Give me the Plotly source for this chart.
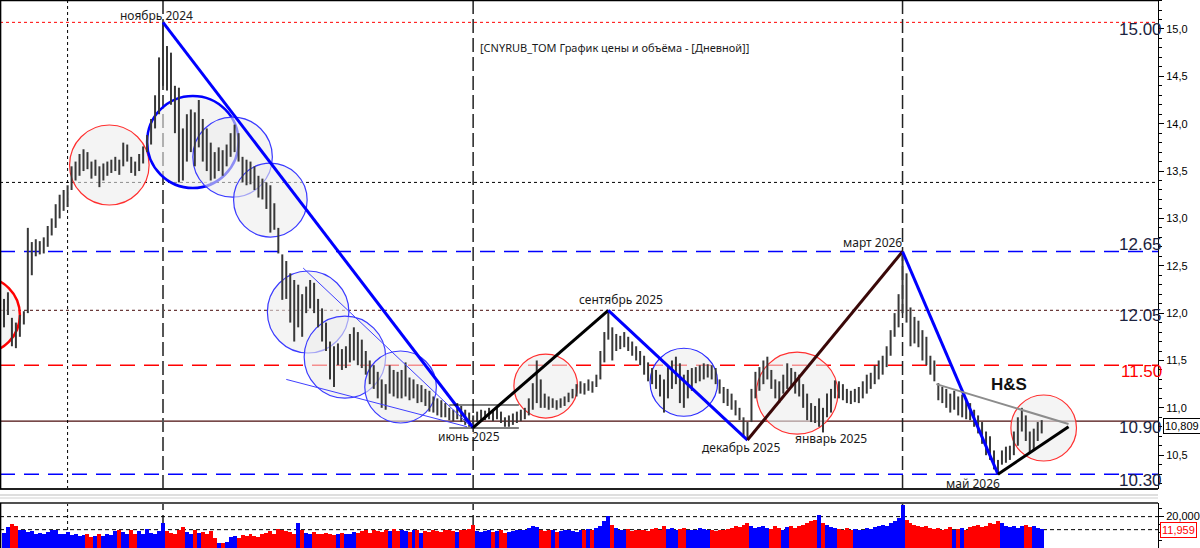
import plotly.graph_objects as go

# ---------------- data (bar index = trading-day slot, every 2nd day) ----------------
highs = [
    12.15, 12.22, 11.95, 11.90, 11.98, 12.02, 12.90, 12.75, 12.78, 12.76,
    12.80, 12.92, 13.00, 13.15, 13.25, 13.30, 13.35, 13.55, 13.60, 13.68,
    13.73, 13.70, 13.60, 13.62, 13.55, 13.58, 13.60, 13.62, 13.65, 13.62,
    13.80, 13.78, 13.65, 13.60, 13.68, 13.76, 13.88, 14.05, 14.30, 14.70,
    15.07, 14.82, 14.75, 14.40, 14.38, 13.95, 14.10, 14.15, 14.12, 14.25,
    14.05, 13.95, 13.80, 13.70, 13.75, 13.72, 13.78, 13.90, 13.99, 13.90,
    13.65, 13.62, 13.60, 13.55, 13.45, 13.42, 13.38, 13.35, 13.16, 12.90,
    12.62, 12.55, 12.42, 12.35, 12.30, 12.20, 12.28, 12.35, 12.32, 12.15,
    12.05, 11.90, 11.70, 11.65, 11.68, 11.62, 11.65, 11.78, 11.85, 11.80,
    11.72, 11.60, 11.50, 11.45, 11.38, 11.30, 11.25, 11.45, 11.40, 11.38,
    11.40, 11.48, 11.32, 11.30, 11.25, 11.24, 11.20, 11.18, 11.12, 11.10,
    11.08, 11.05, 11.00, 10.98, 11.05, 11.02, 10.98, 10.95, 10.92, 10.96,
    10.98, 10.97, 11.00, 10.98, 11.02, 10.96, 10.90, 10.92, 10.94, 10.96,
    10.98, 11.00, 11.10, 11.26, 11.50, 11.30, 11.15, 11.12, 11.10, 11.08,
    11.10, 11.12, 11.16, 11.20, 11.25, 11.28, 11.26, 11.30, 11.28, 11.35,
    11.60, 11.80, 12.03, 11.85, 11.78, 11.76, 11.80, 11.75, 11.70, 11.65,
    11.60, 11.55, 11.48, 11.42, 11.40, 11.35, 11.30, 11.45, 11.50, 11.54,
    11.47, 11.35, 11.40, 11.42, 11.43, 11.45, 11.47, 11.46, 11.45, 11.42,
    11.30, 11.22, 11.20, 11.15, 11.08, 11.00, 10.90, 10.85, 11.20, 11.38,
    11.43, 11.50, 11.54, 11.40, 11.30, 11.28, 11.35, 11.47, 11.42, 11.38,
    11.35, 11.25, 11.15, 11.05, 11.02, 11.10, 11.00, 11.15, 11.20, 11.29,
    11.28, 11.25, 11.20, 11.18, 11.20, 11.22, 11.28, 11.35, 11.37, 11.45,
    11.50, 11.55, 11.65, 11.82, 12.00, 12.20, 12.65, 12.42, 12.06, 11.96,
    11.92, 11.82, 11.75, 11.55, 11.50, 11.26, 11.22, 11.20, 11.15, 11.18,
    11.12, 11.14, 11.10, 11.05, 10.98, 10.92, 10.85, 10.75, 10.70, 10.55,
    10.45, 10.55, 10.59, 10.60, 10.75, 10.90, 11.00, 10.92, 10.75, 10.78, 10.85, 10.87,
]
lows = [
    11.85, 11.98, 11.65, 11.63, 11.75, 11.88, 12.00, 12.40, 12.60, 12.62,
    12.63, 12.70, 12.82, 12.90, 13.00, 13.08, 13.12, 13.30, 13.40, 13.45,
    13.50, 13.52, 13.42, 13.45, 13.33, 13.40, 13.45, 13.48, 13.50, 13.46,
    13.55, 13.60, 13.48, 13.45, 13.50, 13.58, 13.70, 13.78, 13.95, 14.10,
    14.40, 14.35, 14.20, 13.90, 13.38, 13.40, 13.60, 13.70, 13.55, 13.75,
    13.60, 13.50, 13.40, 13.42, 13.50, 13.45, 13.55, 13.65, 13.70, 13.60,
    13.38, 13.35, 13.36, 13.30, 13.22, 13.20, 13.10, 12.85, 12.88, 12.63,
    12.14, 12.15, 11.90, 11.70, 11.85, 11.75, 12.00, 12.05, 12.00, 11.85,
    11.70, 11.60, 11.30, 11.22, 11.45, 11.40, 11.42, 11.48, 11.50, 11.45,
    11.42, 11.35, 11.25, 11.20, 11.10, 11.00, 10.98, 11.15, 11.12, 11.10,
    11.10, 11.12, 11.08, 11.10, 11.05, 11.06, 11.02, 10.96, 10.95, 10.92,
    10.90, 10.90, 10.87, 10.86, 10.88, 10.85, 10.82, 10.80, 10.79, 10.85,
    10.86, 10.87, 10.88, 10.86, 10.88, 10.84, 10.80, 10.80, 10.82, 10.84,
    10.86, 10.88, 10.92, 10.98, 11.05, 11.00, 11.00, 10.98, 11.00, 10.98,
    11.00, 11.02, 11.06, 11.10, 11.12, 11.15, 11.14, 11.18, 11.16, 11.22,
    11.30, 11.48, 11.72, 11.50, 11.60, 11.62, 11.64, 11.60, 11.55, 11.50,
    11.45, 11.35, 11.28, 11.25, 11.20, 11.12, 10.95, 11.10, 11.20, 11.25,
    11.05, 11.00, 11.10, 11.18, 11.26, 11.28, 11.30, 11.32, 11.30, 11.25,
    11.15, 11.05, 11.02, 10.98, 10.92, 10.87, 10.70, 10.66, 10.85, 11.10,
    11.18, 11.25, 11.30, 11.20, 11.10, 11.05, 11.15, 11.20, 11.22, 11.15,
    11.12, 11.00, 10.87, 10.85, 10.84, 10.80, 10.74, 10.90, 10.95, 11.10,
    11.10, 11.08, 11.05, 11.04, 11.06, 11.05, 11.10, 11.15, 11.20, 11.25,
    11.30, 11.35, 11.43, 11.55, 11.75, 11.85, 12.00, 11.90, 11.65, 11.68,
    11.64, 11.50, 11.45, 11.35, 11.28, 11.08, 11.05, 11.00, 10.95, 10.98,
    10.92, 10.90, 10.88, 10.87, 10.80, 10.73, 10.62, 10.50, 10.45, 10.35,
    10.30, 10.40, 10.42, 10.45, 10.50, 10.60, 10.75, 10.65, 10.52, 10.55, 10.65, 10.73,
]
volumes = [
    10000, 13500, 15500, 14000, 11500, 12000, 10500, 11000, 9500, 10000,
    9000, 10500, 11500, 12000, 9500, 9000, 10500, 8500, 9000, 8000,
    8500, 9000, 7500, 8000, 9500, 8000, 9000, 8500, 11000, 12000,
    10500, 9000, 12000, 9000, 11000, 9500, 12500, 10000, 9000, 11000,
    16000, 11000, 10000, 9000, 12000, 13500, 10500, 9000, 11500, 10000,
    10500, 9500, 11000, 7000, 4000, 3500, 4500, 7500, 8000, 7000,
    8500, 8000, 9000, 8000, 7500, 9500, 10000, 11000, 9500, 12500,
    12000, 11000, 10500, 9000, 16000, 11500, 10000, 9000, 10500, 9500,
    9000, 10000, 9500, 8500, 9500, 10000, 9000, 9500, 10500, 10000,
    11000, 11500, 10000, 12000, 11000, 10500, 12000, 11000, 12500, 11000,
    12000, 11000, 10500, 11500, 12000, 10000, 11000, 10500, 12000, 11000,
    10500, 11500, 12000, 11000, 10500, 12000, 11500, 12500, 15000, 11000,
    10500, 11000, 12000, 10500, 11000, 11500, 10000, 10500, 11000, 12000,
    11500, 12000, 13000, 14000, 13500, 12000, 11000, 12000, 11500, 10500,
    11000, 11500, 12000, 11000, 10500, 12000, 11500, 12500, 12000, 13000,
    14000, 17000, 20500, 15000, 13000, 12000, 11500, 12500, 11000, 12000,
    11500, 12000, 11000, 12500, 13000, 12000, 14000, 12500, 13000, 12000,
    12500, 13000, 12000, 11500, 12000, 13000, 12500, 11500, 12000, 11000,
    11500, 12000, 12500, 13000, 14000, 13500, 15000, 16000, 14000, 13000,
    13500, 14000, 13000, 12500, 14500, 13000, 12000, 13500, 14000, 13000,
    14500, 15000, 16000, 17000, 18000, 21000, 16000, 15000, 13500, 13000,
    12500, 12000, 13000, 12000, 12500, 11500, 12000, 13000, 12500, 13500,
    14000, 15000, 14500, 16000, 17000, 19000, 27000, 18000, 16000, 15000,
    14000, 13500, 14500, 13000, 12500, 13000, 12000, 12500, 13500, 12000,
    12500, 13000, 12000, 13500, 14000, 15000, 13500, 14500, 16000, 15500,
    17500, 16000, 14000, 13500, 14500, 13000, 14000, 15000, 13500, 14500, 13000, 12500,
]

pivot_idx = [40, 118, 152, 187, 226, 250]
pivot_price = [15.07, 10.79, 12.03, 10.66, 12.65, 10.30]
pivot_labels = ["ноябрь 2024", "июнь 2025", "сентябрь 2025", "декабрь 2025", "март 2026", "май 2026"]
trend_colors = ["#0000ff", "#000000", "#0000ff", "#3a0808", "#0000ff"]

level_values = [15.07, 13.38, 12.65, 12.03, 11.45, 10.86, 10.30]
level_labels = ["15.00", "", "12.65", "12.05", "11.50", "10.90", "10.30"]

vline_idx = [16, 40, 118, 226]

neck_idx = [234.5, 267.75]
neck_price = [11.25, 10.83]
hs_support_idx = [250, 267.75]
hs_support_price = [10.30, 10.80]
chan_a_idx = [75.25, 117.0]
chan_a_price = [12.476, 10.82]
chan_b_idx = [71.0, 116.5]
chan_b_price = [11.30, 10.80]
box_idx = [112, 129.5]
box_top, box_bottom = 11.03, 10.787

circle_idx = [-5.5, 26.5, 47.5, 57.5, 67.0, 76.5, 85.75, 99.75, 136.25, 171.0, 199.5, 261.5]
circle_price = [11.98, 13.564, 13.807, 13.648, 13.194, 12.012, 11.536, 11.22, 11.23, 11.27, 11.156, 10.787]
circle_r_px = [38, 40, 46, 40, 37, 41, 41, 36, 32, 34, 41, 33]
circle_color = ["#ff0000", "#ff3030", "#0000ff", "#3a3aff", "#3a3aff", "#3a3aff", "#3a3aff",
                "#3a3aff", "#ff3030", "#2a2aff", "#ff3030", "#ff3030"]
circle_width = [2.5, 1.2, 2.5, 1.2, 1.2, 1.2, 1.2, 1.2, 1.2, 1.2, 1.2, 1.2]

current_price = 10.809
vol_level = 20000
vol_current = 11959
price_ticks = [10.5, 11.0, 11.5, 12.0, 12.5, 13.0, 13.5, 14.0, 14.5, 15.0]

# ---------------- geometry ----------------
W, H = 1200, 548
ML, MR = 0, 35
PW = W - ML - MR
X_RANGE = [-1, 290.25]
PX_PER_X = PW / (X_RANGE[1] - X_RANGE[0])
Y_RANGE = [10.143, 15.306]
MAIN_BOTTOM_PX = 489
VOL_TOP_PX = 503
PX_PER_Y = MAIN_BOTTOM_PX / (Y_RANGE[1] - Y_RANGE[0])
main_domain = [1 - MAIN_BOTTOM_PX / H, 1]
vol_domain = [0, 1 - VOL_TOP_PX / H]
V_RANGE = [618, 28428]

fig = go.Figure()

# bars (high-low)
seg_x, seg_y = [], []
for i, (h, l) in enumerate(zip(highs, lows)):
    seg_x += [i, i, None]
    seg_y += [l, h, None]
fig.add_trace(go.Scatter(x=seg_x, y=seg_y, mode="lines",
                         line=dict(color="#383838", width=2), hoverinfo="skip"))

# trend lines between pivots
for k in range(len(pivot_idx) - 1):
    fig.add_trace(go.Scatter(x=pivot_idx[k:k + 2], y=pivot_price[k:k + 2], mode="lines",
                             line=dict(color=trend_colors[k], width=3)))
fig.add_trace(go.Scatter(x=chan_a_idx, y=chan_a_price, mode="lines", line=dict(color="#4040ff", width=1)))
fig.add_trace(go.Scatter(x=chan_b_idx, y=chan_b_price, mode="lines", line=dict(color="#4040ff", width=1)))
fig.add_trace(go.Scatter(x=neck_idx, y=neck_price, mode="lines", line=dict(color="#8c8c8c", width=2)))
fig.add_trace(go.Scatter(x=hs_support_idx, y=hs_support_price, mode="lines", line=dict(color="#000000", width=3)))
for yv in (box_top, box_bottom):
    fig.add_trace(go.Scatter(x=box_idx, y=[yv, yv], mode="lines", line=dict(color="#000000", width=1)))

# volume bars
mids = [(h + l) / 2 for h, l in zip(highs, lows)]
vcol = ["#0000ff" if (i == 0 or mids[i] >= mids[i - 1]) else "#ff0000" for i in range(len(mids))]
fig.add_trace(go.Bar(x=list(range(len(volumes))), y=volumes, marker=dict(color=vcol, line=dict(width=0)),
                     width=1.0, xaxis="x2", yaxis="y2"))

shapes = []
# circles (below bars)
for ci, cp, r, col, lw in zip(circle_idx, circle_price, circle_r_px, circle_color, circle_width):
    dx = r / PX_PER_X
    dy = r / PX_PER_Y
    shapes.append(dict(type="circle", xref="x", yref="y", x0=ci - dx, x1=ci + dx, y0=cp - dy, y1=cp + dy,
                       fillcolor="rgba(236,236,236,0.6)", line=dict(color=col, width=lw), layer="below"))

level_styles = [
    ("#ff0000", "3px,3px", 1),
    ("#000000", "3px,3px", 1),
    ("#0000ff", "15px,9px", 1.5),
    ("#6b3a3a", "3px,3px", 1.3),
    ("#ff0000", "15px,9px", 1.5),
    ("#4a0c0c", "solid", 1.3),
    ("#0000ff", "15px,9px", 1.5),
]
for v, (c, d, w) in zip(level_values, level_styles):
    shapes.append(dict(type="line", xref="x domain", yref="y", x0=0, x1=1, y0=v, y1=v,
                       line=dict(color=c, dash=d, width=w), layer="below"))

vline_styles = [("#000000", "3px,3px", 1), ("#555555", "14px,5px", 2),
                ("#222222", "14px,5px", 1.5), ("#222222", "14px,5px", 1.5)]
for xi, (c, d, w) in zip(vline_idx, vline_styles):
    for yr in ("y domain", "y2 domain"):
        shapes.append(dict(type="line", xref="x", yref=yr, x0=xi, x1=xi, y0=0, y1=1,
                           line=dict(color=c, dash=d, width=w), layer="below"))

# volume levels
for v in (vol_level, vol_current):
    shapes.append(dict(type="line", xref="x2 domain", yref="y2", x0=0, x1=1, y0=v, y1=v,
                       line=dict(color="#000000", dash="4px,3px", width=1), layer="below"))

# frame lines
def hline_px(py, color, width):
    return dict(type="line", xref="paper", yref="paper", x0=0, x1=1, y0=1 - py / H, y1=1 - py / H,
                line=dict(color=color, width=width))
shapes += [
    hline_px(0.5, "#000000", 1.5),
    hline_px(489, "#202020", 2),
    hline_px(495, "#bdbdbd", 1),
    hline_px(498, "#d0d0d0", 1),
    hline_px(503, "#505050", 2),
    dict(type="line", xref="paper", yref="paper", x0=0.0005, x1=0.0005, y0=main_domain[0], y1=1,
         line=dict(color="#000000", width=1.5)),
    dict(type="line", xref="paper", yref="paper", x0=0.0005, x1=0.0005, y0=0, y1=vol_domain[1],
         line=dict(color="#000000", width=1.5)),
]

annotations = []
label_offsets = [(-7, 7), (-4, -9), (13, 11), (-6, -7), (-30, 9), (-25, -9)]
for xi, yp, txt, (xs, ys) in zip(pivot_idx, pivot_price, pivot_labels, label_offsets):
    annotations.append(dict(x=xi, y=yp, xref="x", yref="y", text=txt, showarrow=False,
                            xshift=xs, yshift=ys, font=dict(family="Noto Sans", size=12, color="#1a1a1a")))
annotations.append(dict(x=208, y=10.681, xref="x", yref="y", text="январь 2025", showarrow=False,
                        font=dict(family="Noto Sans", size=12, color="#1a1a1a")))
annotations.append(dict(x=252.75, y=11.251, xref="x", yref="y", text="<b>H&S</b>", showarrow=False,
                        font=dict(family="Liberation Sans", size=17, color="#111111")))
annotations.append(dict(x=481 / PW, y=1 - 37.5 / H, xref="paper", yref="paper", xanchor="left",
                        text="[CNYRUB_TOM График цены и объёма - [Дневной]]", showarrow=False,
                        font=dict(family="Noto Sans", size=11, color="#1a1a1a")))
label_shifts = [-7, 0, 7, -5, -6, -6, -6]
for v, txt, ys in zip(level_values, level_labels, label_shifts):
    if not txt:
        continue
    col = "#ff0000" if txt == "11.50" else "#1c2340"
    annotations.append(dict(x=1162 / PW, y=v, xref="paper", yref="y", xanchor="right", yanchor="middle",
                            text=txt, showarrow=False, yshift=ys, xshift=9,
                            font=dict(family="Liberation Sans", size=17, color=col)))
annotations.append(dict(x=1170 / PW, y=current_price, xref="paper", yref="y", xanchor="left",
                        text=f"{current_price:.3f}".replace(".", ","), showarrow=False,
                        bordercolor="#000000", borderwidth=1, borderpad=1, bgcolor="#ffffff",
                        font=dict(family="Liberation Sans", size=11, color="#000000")))
annotations.append(dict(x=1167 / PW, y=vol_current, xref="paper", yref="y2", xanchor="left",
                        text=f"{vol_current:,}", showarrow=False,
                        bordercolor="#ff0000", borderwidth=1, borderpad=1, bgcolor="#ffffff",
                        font=dict(family="Liberation Sans", size=11, color="#ff0000")))

fig.update_layout(
    width=W, height=H, margin=dict(l=ML, r=MR, t=0, b=0),
    paper_bgcolor="#ffffff", plot_bgcolor="#ffffff", showlegend=False,
    shapes=shapes, annotations=annotations, bargap=0,
    xaxis=dict(range=X_RANGE, showticklabels=False, showgrid=False, zeroline=False, ticks="",
               anchor="y", domain=[0, 1]),
    xaxis2=dict(range=X_RANGE, showticklabels=False, showgrid=False, zeroline=False, ticks="",
                anchor="y2", matches="x", domain=[0, 1]),
    yaxis=dict(domain=main_domain, range=Y_RANGE, side="right", showgrid=False, zeroline=False,
               showline=True, linecolor="#000000", linewidth=1,
               ticks="outside", ticklen=5, tickcolor="#000000",
               tickvals=price_ticks, ticktext=[f"{t:.1f}".replace(".", ",") for t in price_ticks],
               minor=dict(dtick=0.1, tick0=10.0, ticks="outside", ticklen=3, tickcolor="#000000", showgrid=False),
               tickfont=dict(family="Liberation Sans", size=11, color="#000000")),
    yaxis2=dict(domain=vol_domain, range=V_RANGE, side="right", showgrid=False, zeroline=False,
                showline=True, linecolor="#000000", linewidth=1,
                ticks="outside", ticklen=5, tickcolor="#000000",
                tickvals=[vol_level], ticktext=[f"{vol_level:,}"],
                minor=dict(dtick=5000, ticks="outside", ticklen=3, tickcolor="#000000", showgrid=False),
                tickfont=dict(family="Liberation Sans", size=11, color="#000000")),
)

fig.write_html("out.html")
